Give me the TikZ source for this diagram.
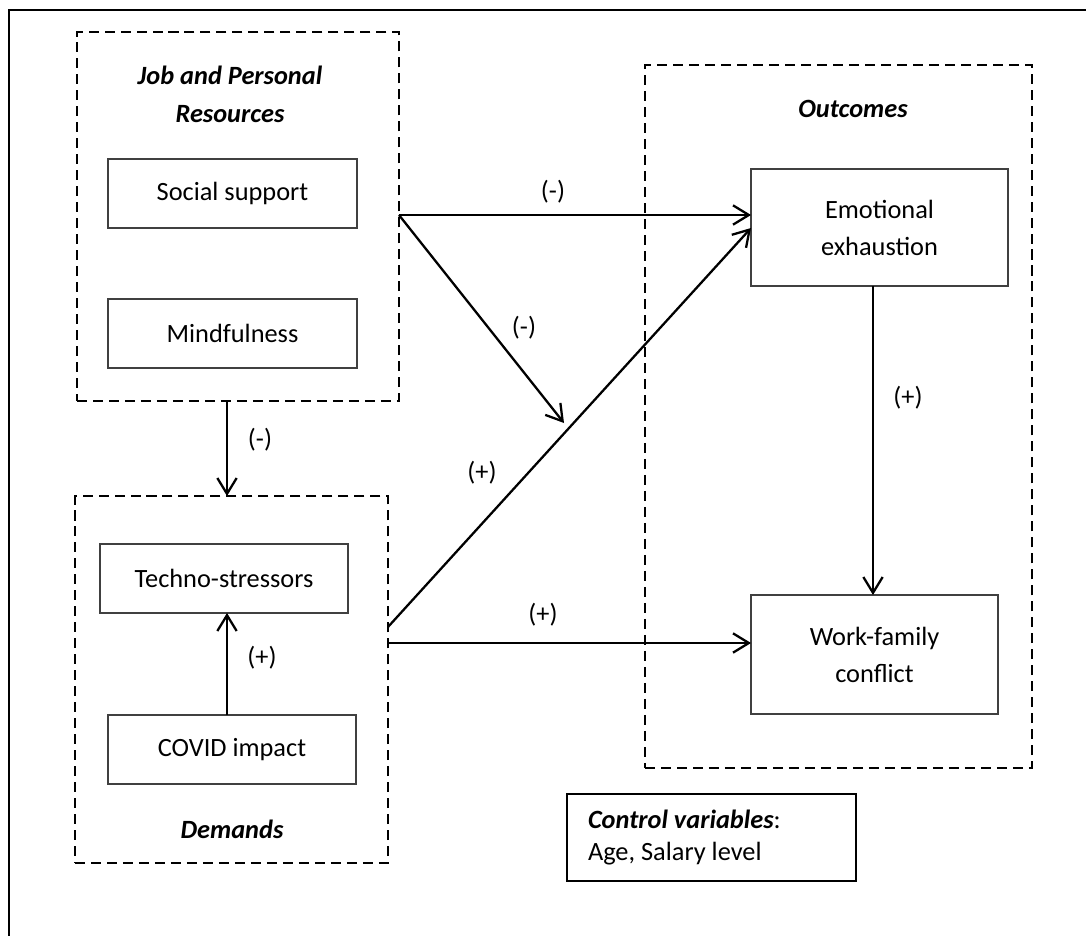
\documentclass[tikz,border=0pt]{standalone}
\usepackage{fontspec}
\setmainfont{Carlito}
\usetikzlibrary{calc}
\usetikzlibrary{arrows.meta}

\begin{document}
\begin{tikzpicture}[x=0.02cm, y=-0.02cm, >={Straight Barb[length=9pt, width=11pt]}]
                \tikzstyle{var} = [draw=black!75, line width=0.7pt, inner sep=0pt, outer sep=0pt, font=\fontsize{15}{21}\selectfont, align=center]
                \tikzstyle{group} = [draw, line width=1.5pt, dash pattern=on 5.7pt off 3.4pt, inner sep=0pt, outer sep=0pt]
                \tikzstyle{title} = [font=\fontsize{15}{21.5}\selectfont\bfseries\itshape, align=center]
                \tikzstyle{effect} = [line width=1.3pt, ->]
                \tikzstyle{sign} = [font=\fontsize{15}{18}\selectfont]
                \useasboundingbox (0, 0) rectangle (1086, 936);
                \draw[line width=1.5pt] (9, 936) -- (9, 10) -- (1086, 10);
                % groups
                \node[group, minimum width=6.44cm, minimum height=7.38cm] (res) at (238, 216.5) {};
                \node[group, minimum width=6.26cm, minimum height=7.34cm] (dem) at (231.5, 679.5) {};
                \node[group, minimum width=7.74cm, minimum height=14.06cm] (out) at (838.5, 416.5) {};
                \node[title] (restitle) at (230, 94) {Job and Personal\\Resources};
                \node[title] (demtitle) at (232, 829) {Demands};
                \node[title] (outtitle) at (853, 109) {Outcomes};
                % variables
                \node[var, minimum width=4.98cm, minimum height=1.38cm] (ss) at (232.5, 193.5) {Social support};
                \node[var, minimum width=4.98cm, minimum height=1.38cm] (mind) at (232.5, 333.5) {Mindfulness};
                \node[var, minimum width=4.96cm, minimum height=1.38cm] (tech) at (224, 578.5) {Techno-stressors};
                \node[var, minimum width=4.96cm, minimum height=1.38cm] (cov) at (232, 749.5) {COVID impact};
                \node[var, minimum width=5.14cm, minimum height=2.34cm] (emo) at (879.5, 227.5) {Emotional\\exhaustion};
                \node[var, minimum width=4.94cm, minimum height=2.38cm] (wfc) at (874.5, 654.5) {Work-family\\conflict};
                \node[draw, line width=1.3pt, inner xsep=0.42cm, inner ysep=0pt, text width=4.94cm, minimum height=1.74cm, align=flush left, font=\fontsize{15}{18}\selectfont] (ctrl) at (711.5, 837.5) {\textbf{\textit{Control variables}}:\\Age, Salary level};
                % paths
                \coordinate (ssrow) at (0, 215);
                \coordinate (emorow) at (0, 228);
                \coordinate (techrow) at (0, 627);
                \coordinate (wfcrow) at (0, 643);
                \coordinate (midcol) at (227, 0);
                \coordinate (emocol) at (873, 0);
                \coordinate (mod) at (564, 423);
                \draw[effect] (res.east |- ssrow) -- (emo.west |- ssrow);
                \draw[effect] (res.east |- ssrow) -- (mod);
                \draw[effect] (dem.east |- techrow) -- (emo.west |- emorow);
                \draw[effect] (dem.east |- wfcrow) -- (wfc.west |- wfcrow);
                \draw[effect] (emo.south -| emocol) -- (wfc.north -| emocol);
                \draw[effect] (res.south -| midcol) -- (dem.north -| midcol);
                \draw[effect] (cov.north -| midcol) -- (tech.south -| midcol);
                \node[sign] (s1) at (553, 192) {(-)};
                \node[sign] (s2) at (524, 328) {(-)};
                \node[sign] (s3) at (482, 473) {(+)};
                \node[sign] (s4) at (543, 615) {(+)};
                \node[sign] (s5) at (260, 440) {(-)};
                \node[sign] (s6) at (262, 658) {(+)};
                \node[sign] (s7) at (908, 398) {(+)};
\end{tikzpicture}
\end{document}
